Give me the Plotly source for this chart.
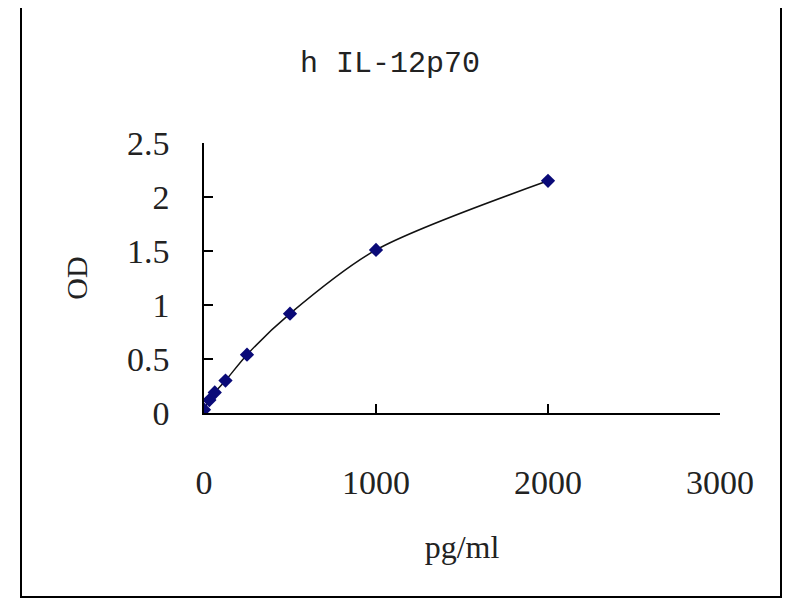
import plotly.graph_objects as go

# Data
conc = [0, 31.25, 62.5, 125, 250, 500, 1000, 2000]
od = [0.03, 0.12, 0.19, 0.30, 0.54, 0.92, 1.51, 2.15]

x_ticks = [0, 1000, 2000, 3000]
x_tick_labels = ["0", "1000", "2000", "3000"]
y_ticks = [0, 0.5, 1, 1.5, 2, 2.5]
y_tick_labels = ["0", "0.5", "1", "1.5", "2", "2.5"]

title_text = "h IL-12p70"
x_title = "pg/ml"
y_title = "OD"

# page offset (browser default body margin)
OFF = 8
# Plot-area geometry in pixels (page coords minus offset)
L, R, T, B = 204 - OFF, 720 - OFF, 143 - OFF, 413 - OFF
W, H = 800, 600
pw, ph = R - L, B - T

def px_x(p):
    return (p - OFF - L) / pw

def px_y(p):
    return (B - (p - OFF)) / ph

fig = go.Figure()
fig.add_trace(go.Scatter(
    x=conc, y=od,
    mode="lines+markers",
    line=dict(color="#111111", width=1.5, shape="spline", smoothing=0.8),
    marker=dict(symbol="diamond", size=11, color="#0a0a78",
                line=dict(color="#0a0a78", width=0)),
    showlegend=False,
    hoverinfo="x+y",
))

serif = "Liberation Serif"
mono = "Liberation Mono"

fig.update_layout(
    width=W, height=H,
    margin=dict(l=L, r=W - R, t=T, b=H - B, pad=0),
    paper_bgcolor="white",
    plot_bgcolor="white",
    title=dict(text=title_text, x=((300 + 480) / 2 - OFF) / W, xanchor="center",
               y=1 - (61 - OFF) / H, yanchor="middle",
               font=dict(family=mono, size=30, color="#222222")),
    xaxis=dict(
        range=[0, 3000], tickvals=x_ticks, ticktext=x_tick_labels,
        showgrid=False, zeroline=False, showline=True,
        linecolor="black", linewidth=1.5,
        ticks="inside", ticklen=9, tickwidth=1.5, tickcolor="black",
        ticklabelstandoff=38,
        tickfont=dict(family=serif, size=34, color="#222222"),
        title=dict(text=x_title, font=dict(family=serif, size=32, color="#222222"),
                   standoff=36),
        fixedrange=True,
    ),
    yaxis=dict(
        range=[0, 2.5], tickvals=y_ticks, ticktext=y_tick_labels,
        showgrid=False, zeroline=False, showline=True,
        linecolor="black", linewidth=1.5,
        ticks="inside", ticklen=9, tickwidth=1.5, tickcolor="black",
        ticklabelstandoff=26,
        tickfont=dict(family=serif, size=34, color="#222222"),
        title=dict(text=y_title, font=dict(family=serif, size=30, color="#222222"),
                   standoff=30),
        fixedrange=True,
    ),
    shapes=[dict(
        type="rect", xref="paper", yref="paper",
        x0=px_x(21), x1=px_x(781), y0=px_y(597), y1=px_y(5),
        line=dict(color="black", width=2), fillcolor="rgba(0,0,0,0)",
        layer="below",
    )],
)

fig.write_html("out.html")
